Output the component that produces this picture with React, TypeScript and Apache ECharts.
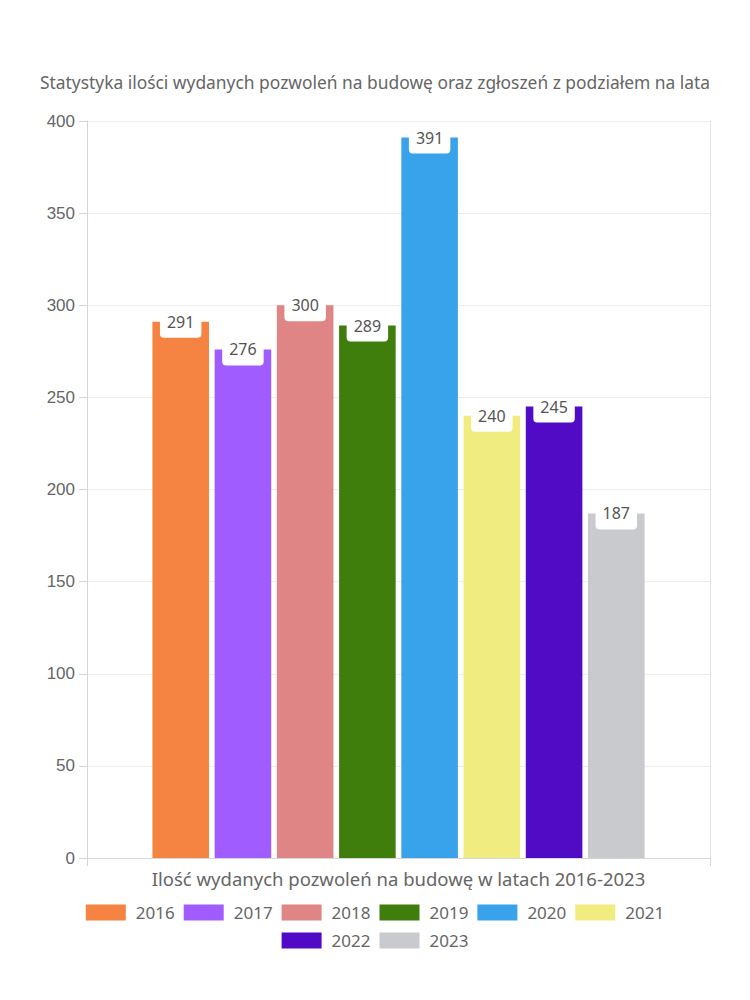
import React, { useEffect, useRef } from "react";
import * as echarts from "echarts";

const titleText = "Statystyka ilości wydanych pozwoleń na budowę oraz zgłoszeń z podziałem na lata";
const categories = ["Ilość wydanych pozwoleń na budowę w latach 2016-2023"];
const years = ["2016", "2017", "2018", "2019", "2020", "2021", "2022", "2023"];
const values = [291, 276, 300, 289, 391, 240, 245, 187];
const colors = ["#F58442", "#A05CFF", "#E08585", "#3F7D0D", "#38A3EA", "#F0EC7F", "#510BC4", "#C9CACE"];
const legendRow1 = ["2016", "2017", "2018", "2019", "2020", "2021"];
const legendRow2 = ["2022", "2023"];

const FONT = "Noto Sans";

export default function App() {
  const ref = useRef<HTMLDivElement>(null);
  useEffect(() => {
    document.body.style.margin = "0";
    const chart = echarts.init(ref.current!, null, { renderer: "svg" });
    const legendCommon = {
      left: "center",
      icon: "rect",
      itemWidth: 40,
      itemHeight: 16,
      itemGap: 9,
      textStyle: { fontSize: 17, color: "#666", fontFamily: FONT, padding: [0, 0, 0, 5] },
      selectedMode: false,
    };
    chart.setOption({
      animation: false,
      color: colors,
      title: {
        text: titleText,
        left: "center",
        top: 68,
        textStyle: { fontSize: 17.4, fontWeight: "normal", color: "#666", fontFamily: FONT },
      },
      legend: [
        { ...legendCommon, top: 899, data: legendRow1 },
        { ...legendCommon, top: 927, data: legendRow2 },
      ],
      grid: { left: 87, right: 40, top: 121, bottom: 142, containLabel: false },
      xAxis: {
        type: "category",
        data: categories,
        axisLine: { show: true, lineStyle: { color: "#d6d6d6" } },
        axisTick: { show: true, length: 8, lineStyle: { color: "#d6d6d6" } },
        splitLine: { show: true, lineStyle: { color: "#e4e4e4" } },
        axisLabel: { fontSize: 18.5, color: "#666", fontFamily: FONT, margin: 11 },
      },
      yAxis: {
        type: "value",
        min: 0,
        max: 400,
        interval: 50,
        axisLine: { show: true, lineStyle: { color: "#d6d6d6" } },
        axisTick: { show: true, length: 8, lineStyle: { color: "#d6d6d6" } },
        splitLine: { show: true, lineStyle: { color: "#ececec" } },
        axisLabel: { fontSize: 17, color: "#666", fontFamily: "Liberation Sans", margin: 12 },
      },
      series: years.map((y, i) => ({
        name: y,
        type: "bar",
        data: [values[i]],
        barGap: "10%",
        barCategoryGap: "21%",
        itemStyle: { color: colors[i] },
        label: {
          show: true,
          position: "insideTop",
          distance: -8,
          color: "#555",
          fontSize: 16,
          fontFamily: FONT,
          lineHeight: 16,
          backgroundColor: "#fff",
          borderRadius: [0, 0, 4, 4],
          padding: [0, 7, 8, 7],
        },
      })),
    });
    return () => chart.dispose();
  }, []);
  return <div ref={ref} style={{ width: 750, height: 1000 }} />;
}
